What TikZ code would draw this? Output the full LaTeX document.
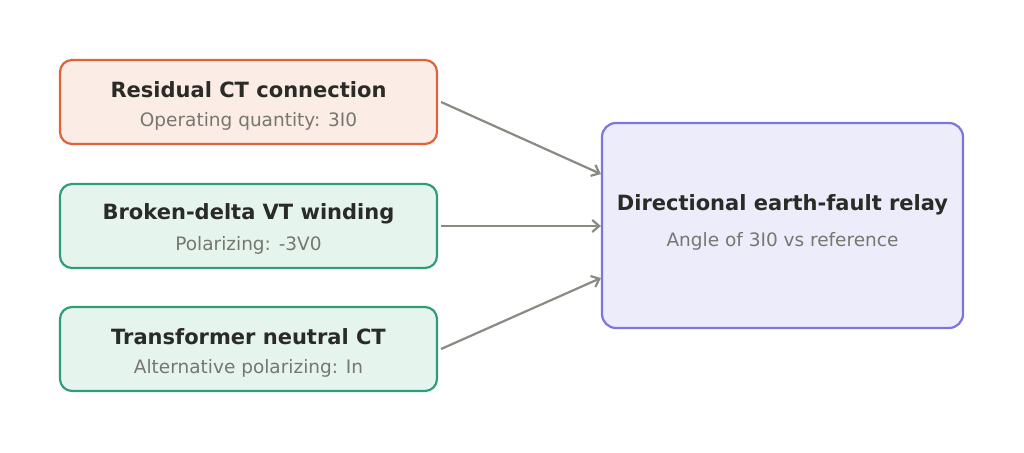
\documentclass[tikz,border=0pt]{standalone}
\usepackage{fontspec}
\setmainfont{DejaVu Sans}
\usetikzlibrary{arrows.meta}
\definecolor{opline}{HTML}{E0623A}
\definecolor{opfill}{HTML}{FBECE5}
\definecolor{polline}{HTML}{2E9E78}
\definecolor{polfill}{HTML}{E6F4EE}
\definecolor{relline}{HTML}{7D74E0}
\definecolor{relfill}{HTML}{EDECFA}
\definecolor{arrowgray}{HTML}{8A8A82}
\definecolor{titletxt}{HTML}{2A2A26}
\definecolor{subtxt}{HTML}{77776F}
\tikzset{
  srcbox/.style={draw, line width=2.2pt, rounded corners=12pt, minimum width=377pt, minimum height=84pt, inner sep=0pt},
  relbox/.style={draw=relline, fill=relfill, line width=2.2pt, rounded corners=14pt, minimum width=361pt, minimum height=205pt, inner sep=0pt},
  title/.style={font=\fontsize{21}{24}\selectfont\bfseries, text=titletxt},
  sub/.style={font=\fontsize{18.5}{20}\selectfont, text=subtxt},
  feed/.style={-{Straight Barb[length=7pt,width=12pt]}, line width=2.2pt, draw=arrowgray}
}
\begin{document}
\begin{tikzpicture}[x=1pt,y=-1pt]
\useasboundingbox (0,0) rectangle (1024,452);
% sources
\node[srcbox, draw=opline, fill=opfill] (resid) at (248.5,102) {};
\node[srcbox, draw=polline, fill=polfill] (delta) at (248.5,226) {};
\node[srcbox, draw=polline, fill=polfill] (neut) at (248.5,349) {};
\node[title] (residt) at (248.5,90) {Residual CT connection};
\node[sub] (resids) at (248.5,121) {Operating quantity: 3I0};
\node[title] (deltat) at (248.5,214) {Broken-delta VT winding};
\node[sub] (deltas) at (248.5,245) {Polarizing: -3V0};
\node[title] (neutt) at (248.5,337) {Transformer neutral CT};
\node[sub] (neuts) at (248.5,368) {Alternative polarizing: In};
% relay
\node[relbox] (relay) at (782.5,225.5) {};
\node[title] (relayt) at (782.5,205) {Directional earth-fault relay};
\node[sub] (relays) at (782.5,241) {Angle of 3I0 vs reference};
% connections
\draw[feed] (resid.east) ++(3,0) -- (relay.west |- 0,174);
\draw[feed] (delta.east) ++(3,0) -- (relay.west |- 0,226);
\draw[feed] (neut.east) ++(3,0) -- (relay.west |- 0,278);
\end{tikzpicture}
\end{document}
